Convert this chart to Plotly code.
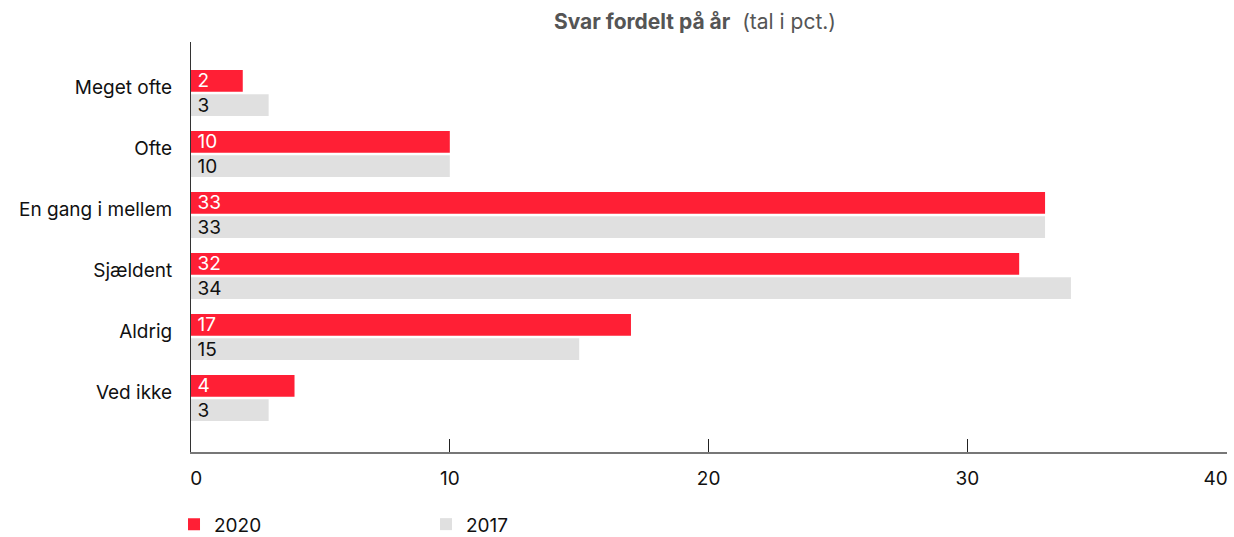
import plotly.graph_objects as go

categories = ["Meget ofte", "Ofte", "En gang i mellem", "Sjældent", "Aldrig", "Ved ikke"]
values_2020 = [2, 10, 33, 32, 17, 4]
values_2017 = [3, 10, 33, 34, 15, 3]
x_ticks = [0, 10, 20, 30, 40]

RED = "#FF1F35"
GRAY = "#E0E0E0"
FONT = "Inter, Lato, sans-serif"
PAD = "\u2009"
NB = "\u00a0"

# keep the first / last tick labels inside the plot like the reference
tick_text = [str(t) for t in x_ticks]
tick_text[0] = NB * 2 + tick_text[0]
tick_text[-1] = tick_text[-1] + NB * 4

fig = go.Figure()
fig.add_trace(go.Bar(
    y=categories, x=values_2020, name="2020", orientation="h",
    marker=dict(color=RED, line=dict(width=0)),
    text=[PAD + str(v) for v in values_2020], textposition="inside",
    insidetextanchor="start", textangle=0, constraintext="none",
    textfont=dict(color="white", size=19, family=FONT),
))
fig.add_trace(go.Bar(
    y=categories, x=values_2017, name="2017", orientation="h",
    marker=dict(color=GRAY, line=dict(width=0)),
    text=[PAD + str(v) for v in values_2017], textposition="inside",
    insidetextanchor="start", textangle=0, constraintext="none",
    textfont=dict(color="#111", size=19, family=FONT),
))

fig.update_layout(
    width=1234, height=537,
    margin=dict(l=191, r=7, t=42, b=85, autoexpand=False),
    paper_bgcolor="white", plot_bgcolor="white",
    barmode="group", bargap=0.21, bargroupgap=0.1,
    font=dict(family=FONT, size=19, color="#111"),
    uniformtext=dict(minsize=19, mode="show"),
    title=dict(
        text="<b>Svar fordelt på år</b>  <span style='font-weight:normal'>(tal i pct.)</span>",
        x=0.5632, xanchor="center", y=0.959, yanchor="middle",
        font=dict(size=21, color="#555", family=FONT),
    ),
    xaxis=dict(
        range=[0, 40.03], tickvals=x_ticks, ticktext=tick_text,
        showgrid=False, zeroline=False, automargin=False,
        showline=True, linecolor="#777", linewidth=2,
        ticks="inside", ticklen=13, tickcolor="#222", tickwidth=1,
        tickfont=dict(size=19, color="#111"),
        ticklabelstandoff=8, ticklabeloverflow="allow",
    ),
    yaxis=dict(
        categoryorder="array", categoryarray=categories,
        range=[5.885, -0.836], automargin=False,
        showgrid=False, zeroline=False,
        showline=True, linecolor="#333", linewidth=1,
        ticks="", ticklabelstandoff=14, ticklabelshift=6,
        tickfont=dict(size=19, color="#111"),
    ),
    legend=dict(
        orientation="h", x=-0.0164, xanchor="left", y=-0.13, yanchor="top",
        entrywidth=207, entrywidthmode="pixels",
        font=dict(size=19, color="#111"),
        traceorder="normal",
    ),
    showlegend=True,
)

fig.write_html(
    "out.html",
    config={"displayModeBar": False},
    post_script="document.body.style.margin='0';document.body.style.overflow='hidden';",
)
